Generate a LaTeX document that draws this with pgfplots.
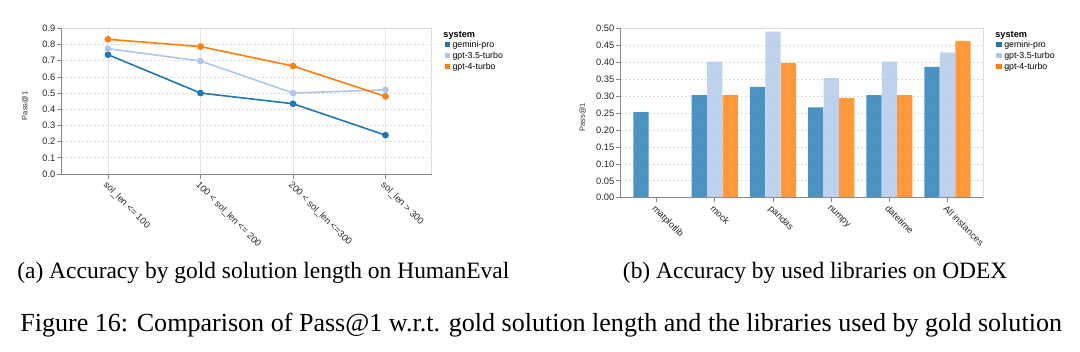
\documentclass[border=0pt]{standalone}
\usepackage{fontspec}
\setmainfont{Liberation Serif}
\newfontfamily\lsans{Liberation Sans}
\usepackage{pgfplots}
\pgfplotsset{compat=1.18}
\definecolor{cGem}{HTML}{1F77B4}
\definecolor{cGtt}{HTML}{AEC7E8}
\definecolor{cGf}{HTML}{FF7F0E}
\definecolor{gridc}{HTML}{DDDDDD}
\definecolor{domc}{HTML}{888888}
\pgfplotsset{
  vega/.style={
    scale only axis,
    anchor=south west,
    clip=false,
    axis line style={draw=gridc, line width=0.5pt},
    tick style={draw=domc, line width=0.5pt},
    tick align=outside,
    xtick pos=bottom, ytick pos=left,
    major tick length=3.4pt,
    ticklabel style={font=\lsans\fontsize{7}{8}\selectfont, text=black!85},
    yticklabel style={inner sep=1.2pt},
    /pgf/number format/assume math mode=true,
    ymajorgrids,
    y grid style={draw=gridc, dash pattern=on 1.5pt off 1.5pt, line width=0.5pt},
    legend style={draw=none, fill=none, inner sep=0pt, anchor=north west,
      font=\lsans\fontsize{6.6}{7}\selectfont, row sep=1.75pt, column sep=2pt,
      cells={anchor=west}, nodes={inner sep=0pt, text height=5pt, text depth=1.5pt}},
    legend cell align=left,
    legend image code/.code={\fill[#1, draw=none, fill opacity=1] (0pt,-2pt) rectangle (4pt,2pt);},
    every axis y label/.style={rotate=90, anchor=center, font=\lsans\fontsize{5.6}{6}\selectfont, text=black!85},
    xticklabel style={rotate=-45, anchor=north west, inner sep=1pt},
  }
}
\begin{document}
\begin{tikzpicture}
\useasboundingbox (0pt,0pt) rectangle (810pt,-264pt);
% ---------- (a) line chart ----------
\begin{axis}[vega,
  at={(46.3pt,-130.5pt)},
  width=277.5pt, height=109.3pt,
  xmin=-0.5, xmax=3.5, ymin=0, ymax=0.9,
  xtick={0,1,2,3},
  xticklabels={sol\_len <= 100, 100 < sol\_len <= 200, 200 < sol\_len <=300, sol\_len > 300},
  ytick={0,0.1,0.2,0.3,0.4,0.5,0.6,0.7,0.8,0.9},
  yticklabel style={/pgf/number format/.cd, fixed, fixed zerofill, precision=1},
  xmajorgrids,
  x grid style={draw=gridc!80, line width=0.5pt},
  ylabel={Pass@1},
  ylabel style={at={(axis description cs:-0.099,0.467)}},
  legend style={at={(axis description cs:1.034,0.918)}},
]
\addplot[cGem, line width=1.2pt, mark=*, mark size=1.9pt] coordinates {(0,0.737) (1,0.500) (2,0.434) (3,0.240)};
\addlegendentry{gemini-pro}
\addplot[cGtt, line width=1.2pt, mark=*, mark size=1.9pt] coordinates {(0,0.774) (1,0.698) (2,0.500) (3,0.520)};
\addlegendentry{gpt-3.5-turbo}
\addplot[cGf, line width=1.2pt, mark=*, mark size=1.9pt] coordinates {(0,0.832) (1,0.787) (2,0.667) (3,0.479)};
\addlegendentry{gpt-4-turbo}
\draw[domc, line width=0.6pt] (rel axis cs:0,1) -- (rel axis cs:0,0) -- (rel axis cs:1,0);
\node[anchor=west, inner sep=0pt, font=\lsans\bfseries\fontsize{6.9}{8}\selectfont] at (axis description cs:1.031,0.954) {system};
\end{axis}
% ---------- (b) bar chart ----------
\begin{axis}[vega,
  at={(465.5pt,-148.3pt)},
  width=272.1pt, height=127.05pt,
  xmin=-0.617, xmax=5.617, ymin=0, ymax=0.5,
  xtick={0,1,2,3,4,5},
  xticklabels={matplotlib, mock, pandas, numpy, datetime, All instances},
  ytick={0,0.05,0.1,0.15,0.2,0.25,0.3,0.35,0.4,0.45,0.5},
  yticklabel style={/pgf/number format/.cd, fixed, fixed zerofill, precision=2},
  ylabel={Pass@1},
  ylabel style={at={(axis description cs:-0.105,0.476)}},
  legend style={at={(axis description cs:1.0345,0.93)}},
]
\addplot[ybar, bar width=0.262, bar shift=-0.266, fill=cGem, fill opacity=0.8, draw=none]
  coordinates {(0,0.253) (1,0.303) (2,0.327) (3,0.267) (4,0.303) (5,0.386)};
\addlegendentry{gemini-pro}
\addplot[ybar, bar width=0.262, bar shift=0, fill=cGtt, fill opacity=0.8, draw=none]
  coordinates {(0,0) (1,0.402) (2,0.490) (3,0.353) (4,0.402) (5,0.429)};
\addlegendentry{gpt-3.5-turbo}
\addplot[ybar, bar width=0.262, bar shift=0.266, fill=cGf, fill opacity=0.8, draw=none]
  coordinates {(0,0) (1,0.303) (2,0.397) (3,0.295) (4,0.303) (5,0.463)};
\addlegendentry{gpt-4-turbo}
\draw[domc, line width=0.6pt] (rel axis cs:0,1) -- (rel axis cs:0,0) -- (rel axis cs:1,0);
\node[anchor=west, inner sep=0pt, font=\lsans\bfseries\fontsize{6.9}{8}\selectfont] at (axis description cs:1.032,0.960) {system};
\end{axis}
% ---------- captions ----------
\node[anchor=base west, inner sep=0pt, font=\fontsize{17.6}{20}\selectfont] at (12.8pt,-209.25pt) {(a) Accuracy by gold solution length on HumanEval};
\node[anchor=base west, inner sep=0pt, font=\fontsize{17.6}{20}\selectfont] at (467pt,-209.25pt) {(b) Accuracy by used libraries on ODEX};
\node[anchor=base west, inner sep=0pt, font=\fontsize{19.55}{22}\selectfont] at (15pt,-248.25pt) {Figure 16: Comparison of Pass@1 w.r.t. gold solution length and the libraries used by gold solution};
\end{tikzpicture}
\end{document}
